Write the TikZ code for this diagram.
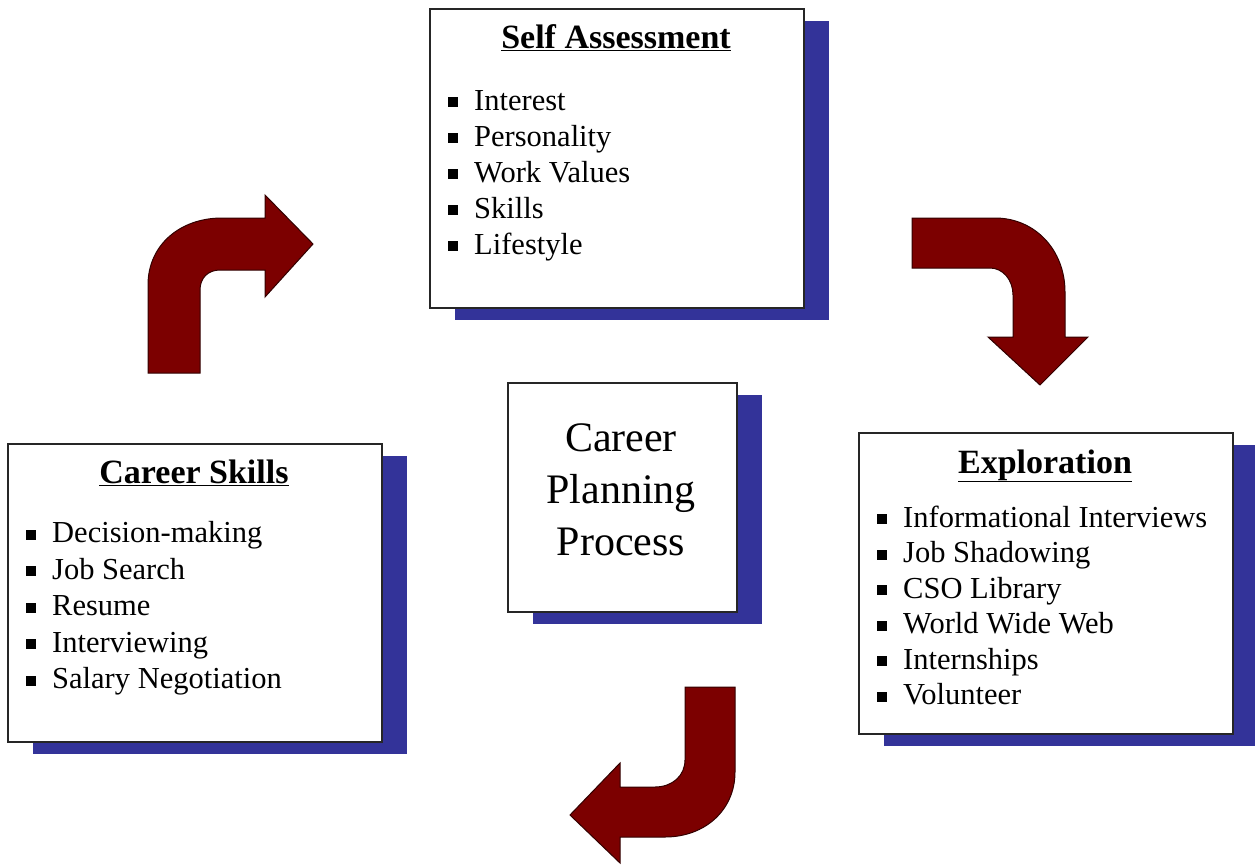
\documentclass[tikz,border=0pt]{standalone}
\usepackage{fontspec}
\setmainfont{Liberation Serif}
\usetikzlibrary{shadows}

\definecolor{arrowred}{RGB}{124,0,0}
\definecolor{shadowblue}{RGB}{51,51,153}

\tikzset{
  panel/.style={draw=black!85, line width=1.6pt, fill=white, anchor=north west, inner sep=0pt,
    drop shadow={shadow xshift=25pt, shadow yshift=-12pt, fill=shadowblue, opacity=1}},
  heading/.style={anchor=base, inner sep=0pt, font=\fontsize{34}{40}\selectfont\bfseries},
  item/.style={anchor=base west, inner sep=0pt, font=\fontsize{30.5}{36}\selectfont},
  dot/.style={fill=black, inner sep=0pt, minimum size=10pt},
  bent/.style={fill=arrowred, draw=black!60!arrowred, line width=1pt, line join=miter}
}

\begin{document}
\begin{tikzpicture}[x=1pt, y=-1pt]
        \useasboundingbox (0,0) rectangle (1255,865);

        % Boxes
        \node[panel, minimum width=374pt, minimum height=299pt] (self) at (429,8) {};
        \node[panel, minimum width=374pt, minimum height=298pt] (skills) at (7,443) {};
        \node[panel, minimum width=229pt, minimum height=229pt] (centre) at (507,382) {};
        \node[panel, minimum width=374pt, minimum height=301pt] (explore) at (858,432) {};

        % Headings
        \node[heading] (self-title) at (616,48) {\underline{Self Assessment}};
        \node[heading] (skills-title) at (194,483) {\underline{Career Skills}};
        \node[heading] (explore-title) at (1045,473) {\underline{Exploration}};
        \node[align=center, inner sep=0pt, font=\fontsize{42}{52}\selectfont] (cpp) at (621,490) {Career\\Planning\\Process};

        % Lists
        \foreach \txt [count=\i] in {Interest, Personality, Work Values, Skills, Lifestyle} {
            \node[dot] (self-dot-\i) at (453,66+36*\i) {};
            \node[item] (self-\i) at (474,74+36*\i) {\txt};
        }
        \foreach \txt [count=\i] in {Decision-making, Job Search, Resume, Interviewing, Salary Negotiation} {
            \node[dot] (skills-dot-\i) at (31,498+36.5*\i) {};
            \node[item] (skills-\i) at (52,506+36.5*\i) {\txt};
        }
        \foreach \txt [count=\i] in {Informational Interviews, Job Shadowing, CSO Library, World Wide Web, Internships, Volunteer} {
            \node[dot] (explore-dot-\i) at (882,483.5+35.5*\i) {};
            \node[item] (explore-\i) at (903,491.5+35.5*\i) {\txt};
        }

        % Bent arrows
        \draw[bent] (148,373) -- (148,285) .. controls (148,245) and (180,218) .. (222,218)
            -- (265,218) -- (265,195) -- (313,244) -- (265,297) -- (265,270) -- (220,270)
            .. controls (208,270) and (200,278) .. (200,290) -- (200,373) -- cycle;
        \draw[bent] (912,218) -- (995,218) .. controls (1035,218) and (1065,250) .. (1065,292)
            -- (1065,337) -- (1088,337) -- (1040,385) -- (988,337) -- (1013,337) -- (1013,295)
            .. controls (1013,280) and (1003,268) .. (990,268) -- (912,268) -- cycle;
        \draw[bent] (685,687) -- (735,687) -- (735,772) .. controls (735,810) and (705,837) .. (665,837)
            -- (620,837) -- (620,863) -- (570,815) -- (620,763) -- (620,787) -- (655,787)
            .. controls (672,787) and (685,776) .. (685,760) -- cycle;
\end{tikzpicture}
\end{document}
